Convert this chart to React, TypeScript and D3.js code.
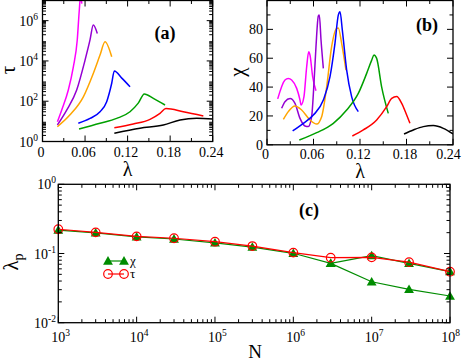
import React, { useEffect, useRef } from 'react';
import * as d3 from 'd3';

const W = 463;
const H = 361;
const FONT = "'Liberation Serif', Tinos, 'Times New Roman', Times, 'DejaVu Serif', serif";

// panel (a): tau vs lambda, [lambda, tau]
const tauMagenta = [[0.021, 9.5], [0.027, 36], [0.0364, 360], [0.0435, 5100], [0.049, 1.1e5], [0.0519, 3.4e6], [0.0535, 1.5e7], [0.0555, 7e6]];
const tauViolet = [[0.021, 6.6], [0.0341, 36], [0.0482, 360], [0.06, 1.1e4], [0.067, 1.1e5], [0.0716, 6e5], [0.0773, 2.3e5]];
const tauOrange = [[0.021, 5.4], [0.0388, 21], [0.0576, 166], [0.0716, 2400], [0.0811, 1.95e4], [0.0882, 9e4], [0.0976, 1.6e4]];
const tauBlue = [[0.0505, 8], [0.067, 14], [0.0811, 30], [0.0905, 95], [0.0976, 780], [0.1013, 3200], [0.1118, 1400], [0.1235, 520]];
const tauGreen = [[0.0515, 4.2], [0.0811, 8], [0.1046, 14], [0.1234, 30], [0.135, 80], [0.1436, 230], [0.1563, 138], [0.1728, 65]];
const tauRed = [[0.1013, 4.8], [0.128, 7.4], [0.1516, 12.6], [0.1657, 25], [0.1741, 43], [0.1985, 30], [0.2268, 18.6]];
const tauBlack = [[0.1013, 2.6], [0.1375, 4.6], [0.1704, 6.6], [0.194, 11.7], [0.2175, 14.1], [0.24, 13.2]];

// panel (b): chi vs lambda, [lambda, chi]
const chiMagenta = [[0.0138, 31.8], [0.0232, 44.9], [0.0275, 46], [0.0318, 44.9], [0.0383, 39.1], [0.0426, 31], [0.0439, 27.6], [0.0477, 33.4], [0.0512, 54.1], [0.0538, 64.5], [0.0555, 62.2], [0.0589, 47.2], [0.0632, 37.5]];
const chiViolet = [[0.0189, 25.3], [0.0232, 29.9], [0.0297, 32], [0.0361, 28.7], [0.0426, 18.3], [0.049, 13], [0.0533, 12.6], [0.0576, 19.5], [0.0606, 42.6], [0.0632, 68], [0.0662, 89.2], [0.0675, 89.9], [0.0697, 72.6], [0.0727, 53]];
const chiOrange = [[0.0211, 17.6], [0.0275, 23], [0.0361, 26.9], [0.0447, 24.1], [0.0555, 17.2], [0.0641, 14.4], [0.0705, 19.5], [0.077, 40.2], [0.0834, 68], [0.0899, 80.7], [0.092, 80.9], [0.0963, 70.3], [0.1019, 51.8]];
const chiBlue = [[0.0331, 9.6], [0.0469, 14.9], [0.0598, 20.6], [0.0727, 31], [0.0813, 47.2], [0.0877, 70.3], [0.092, 89.9], [0.0942, 92.2], [0.0972, 79.5], [0.1028, 51.8], [0.1092, 33.4], [0.1178, 23]];
const chiGreen = [[0.0417, 3.3], [0.0641, 8.4], [0.0856, 14.9], [0.1028, 24.1], [0.1178, 35.6], [0.1286, 49.5], [0.1351, 58.7], [0.138, 62.2], [0.1415, 59.9], [0.1479, 40.2], [0.1565, 21.8]];
const chiRed = [[0.1101, 6.1], [0.1243, 10.3], [0.1415, 17.2], [0.1544, 26.4], [0.1609, 32.2], [0.1673, 33.4], [0.1738, 28.7], [0.1802, 20.6], [0.1845, 14.9]];
const chiBlack = [[0.1768, 7.5], [0.1888, 10.3], [0.2017, 12.6], [0.2146, 13.3], [0.2275, 11.4], [0.24, 7.5]];

const colors = ['#ff00ff', '#9400d3', '#ffa500', '#0000ff', '#00a000', '#ff0000', '#000000'];

// panel (c): lambda_p vs N
const sizes = [1e3, 3e3, 1e4, 3e4, 1e5, 3e5, 1e6, 3e6, 1e7, 3e7, 1e8];
const peakTau = [0.224, 0.202, 0.177, 0.166, 0.148, 0.128, 0.103, 0.087, 0.088, 0.075, 0.0546];
const peakChi = [0.218, 0.198, 0.174, 0.162, 0.142, 0.124, 0.1007, 0.072, 0.093, 0.072, 0.0546];
const sizesLow = [3e6, 1e7, 3e7, 1e8];
const peakChiLow = [0.072, 0.039, 0.0304, 0.0243];

const linTicks = (a, b, step) => d3.range(Math.round((b - a) / step) + 1).map(i => a + i * step);
const logMinor = (lo, hi) => {
  const out = [];
  for (let e = lo; e < hi; e++) for (let k = 2; k <= 9; k++) out.push(k * Math.pow(10, e));
  return out;
};

const App = () => {
  const ref = useRef(null);

  useEffect(() => {
    const svg = d3.select(ref.current);
    svg.selectAll('*').remove();

    const frame = (x, y, xMaj, xMin, yMaj, yMin) => {
      const [l, r] = x.range();
      const [b, t] = y.range();
      const g = svg.append('g').attr('stroke', '#000').attr('stroke-width', 1);
      const tick = (x1, y1, x2, y2) => g.append('line').attr('x1', x1).attr('y1', y1).attr('x2', x2).attr('y2', y2);
      xMaj.forEach(v => { tick(x(v), b, x(v), b - 6); tick(x(v), t, x(v), t + 6); });
      xMin.forEach(v => { tick(x(v), b, x(v), b - 3.5); tick(x(v), t, x(v), t + 3.5); });
      yMaj.forEach(v => { tick(l, y(v), l + 6, y(v)); tick(r, y(v), r - 6, y(v)); });
      yMin.forEach(v => { tick(l, y(v), l + 3.5, y(v)); tick(r, y(v), r - 3.5, y(v)); });
      g.append('rect').attr('x', l).attr('y', t).attr('width', r - l).attr('height', b - t)
        .attr('fill', 'none').attr('stroke-width', 1.3);
    };

    const clip = (id, x, y) => {
      const [l, r] = x.range();
      const [b, t] = y.range();
      svg.append('clipPath').attr('id', id).append('rect')
        .attr('x', l).attr('y', t).attr('width', r - l).attr('height', b - t);
    };

    const powLabel = (px, py, exp, anchor) => {
      const t = svg.append('text').attr('x', px).attr('y', py).attr('text-anchor', anchor)
        .style('font-family', FONT).style('font-size', '14px');
      t.append('tspan').text('10');
      t.append('tspan').attr('dy', -6).style('font-size', '9.5px').text(exp);
    };

    const txt = (s, px, py, size, opts = {}) => {
      const t = svg.append('text').attr('x', px).attr('y', py).style('font-family', FONT)
        .style('font-size', size + 'px').attr('text-anchor', opts.anchor || 'middle').text(s);
      if (opts.bold) t.style('font-weight', 'bold');
      return t;
    };

    const decFmt = v => (v === 0 ? '0' : v.toFixed(2));

    // ---- (a)
    const xa = d3.scaleLinear().domain([0, 0.24]).range([42.5, 212.7]);
    const ya = d3.scaleLog().domain([1, 1e7]).range([141.5, 0.5]);
    clip('clipA', xa, ya);
    const lineA = d3.line().x(d => xa(d[0])).y(d => ya(d[1])).curve(d3.curveMonotoneX);
    [tauMagenta, tauViolet, tauOrange, tauBlue, tauGreen, tauRed, tauBlack].forEach((s, i) => {
      svg.append('path').attr('d', lineA(s)).attr('fill', 'none').attr('stroke', colors[i])
        .attr('stroke-width', 1.5).attr('clip-path', 'url(#clipA)');
    });
    frame(xa, ya, linTicks(0, 0.24, 0.06), linTicks(0.03, 0.21, 0.06), [1, 1e2, 1e4, 1e6], logMinor(0, 7));
    linTicks(0, 0.24, 0.06).forEach(v => txt(decFmt(v), xa(v) - 1.5, 157, 14));
    [0, 2, 4, 6].forEach(e => powLabel(38, ya(Math.pow(10, e)) + 5, String(e), 'end'));
    txt('λ', (xa(0) + xa(0.24)) / 2, 176, 20);
    txt('τ', 0, 0, 21).attr('transform', 'translate(15,70) rotate(-90)');
    txt('(a)', 165, 39, 18, { bold: true });

    // ---- (b)
    const xb = d3.scaleLinear().domain([0, 0.24]).range([267, 453]);
    const yb = d3.scaleLinear().domain([0, 100]).range([144.8, 0.5]);
    clip('clipB', xb, yb);
    const lineB = d3.line().x(d => xb(d[0])).y(d => yb(d[1])).curve(d3.curveMonotoneX);
    [chiMagenta, chiViolet, chiOrange, chiBlue, chiGreen, chiRed, chiBlack].forEach((s, i) => {
      svg.append('path').attr('d', lineB(s)).attr('fill', 'none').attr('stroke', colors[i])
        .attr('stroke-width', 1.5).attr('clip-path', 'url(#clipB)');
    });
    frame(xb, yb, linTicks(0, 0.24, 0.06), linTicks(0.03, 0.21, 0.06), linTicks(0, 100, 20), linTicks(10, 90, 20));
    linTicks(0, 0.24, 0.06).forEach((v, i, arr) =>
      txt(decFmt(v), xb(v) - (i === arr.length - 1 ? 4.5 : 1.5), 159, 14));
    linTicks(0, 80, 20).forEach(v => txt(String(v), 263, yb(v) + 5, 14, { anchor: 'end' }));
    txt('λ', (xb(0) + xb(0.24)) / 2, 178, 20);
    txt('χ', 0, 0, 21).attr('transform', 'translate(244,72) rotate(-90)');
    txt('(b)', 427, 31, 18, { bold: true });

    // ---- (c)
    const xc = d3.scaleLog().domain([1e3, 1e8]).range([58.3, 450]);
    const yc = d3.scaleLog().domain([1e-2, 1]).range([322.7, 184.3]);
    const green = '#008c00';
    const red = '#ff0000';
    const lineC = d3.line().x(d => xc(d[0])).y(d => yc(d[1]));
    const chiPts = sizes.map((n, i) => [n, peakChi[i]]);
    const chiLowPts = sizesLow.map((n, i) => [n, peakChiLow[i]]);
    const tauPts = sizes.map((n, i) => [n, peakTau[i]]);
    const tri = d3.symbol().type(d3.symbolTriangle).size(42);

    const drawChi = (pts) => {
      svg.append('path').attr('d', lineC(pts)).attr('fill', 'none').attr('stroke', green).attr('stroke-width', 1.2);
      pts.forEach(p => svg.append('path').attr('d', tri())
        .attr('transform', `translate(${xc(p[0])},${yc(p[1]) + 0.8})`).attr('fill', green));
    };
    drawChi(chiPts);
    drawChi(chiLowPts);
    svg.append('path').attr('d', lineC(tauPts)).attr('fill', 'none').attr('stroke', red).attr('stroke-width', 1.2);
    tauPts.forEach(p => svg.append('circle').attr('cx', xc(p[0])).attr('cy', yc(p[1])).attr('r', 4.3)
      .attr('fill', 'none').attr('stroke', red).attr('stroke-width', 1.2));

    frame(xc, yc, [1e3, 1e4, 1e5, 1e6, 1e7, 1e8], logMinor(3, 8), [1e-2, 1e-1, 1], logMinor(-2, 0));
    [3, 4, 5, 6, 7].forEach(e => powLabel(xc(Math.pow(10, e)) - 7, 342, String(e), 'start'));
    powLabel(xc(1e8) + 10, 342, '8', 'end');
    [-2, -1, 0].forEach(e => powLabel(56, yc(Math.pow(10, e)) + 5, String(e), 'end'));
    txt('N', 255, 358, 19);
    const lp = txt('λ', 0, 0, 21).attr('transform', 'translate(18,262) rotate(-90)');
    lp.append('tspan').attr('dy', 5).style('font-size', '14px').text('p');
    txt('(c)', 309, 216, 18, { bold: true });

    // legend
    const lg = svg.append('g');
    lg.append('line').attr('x1', 108).attr('x2', 124).attr('y1', 261).attr('y2', 261).attr('stroke', green).attr('stroke-width', 1.2);
    [108, 124].forEach(px => lg.append('path').attr('d', tri()).attr('transform', `translate(${px},261.8)`).attr('fill', green));
    lg.append('line').attr('x1', 108).attr('x2', 124).attr('y1', 274).attr('y2', 274).attr('stroke', red).attr('stroke-width', 1.2);
    [108, 124].forEach(px => lg.append('circle').attr('cx', px).attr('cy', 274).attr('r', 4.3)
      .attr('fill', 'none').attr('stroke', red).attr('stroke-width', 1.2));
    txt('χ', 130, 265, 13, { anchor: 'start' });
    txt('τ', 130, 278, 13, { anchor: 'start' });
  }, []);

  return (
    <svg ref={ref} width={W} height={H} style={{ position: 'absolute', left: 0, top: 0, background: '#fff' }} />
  );
};

export default App;
